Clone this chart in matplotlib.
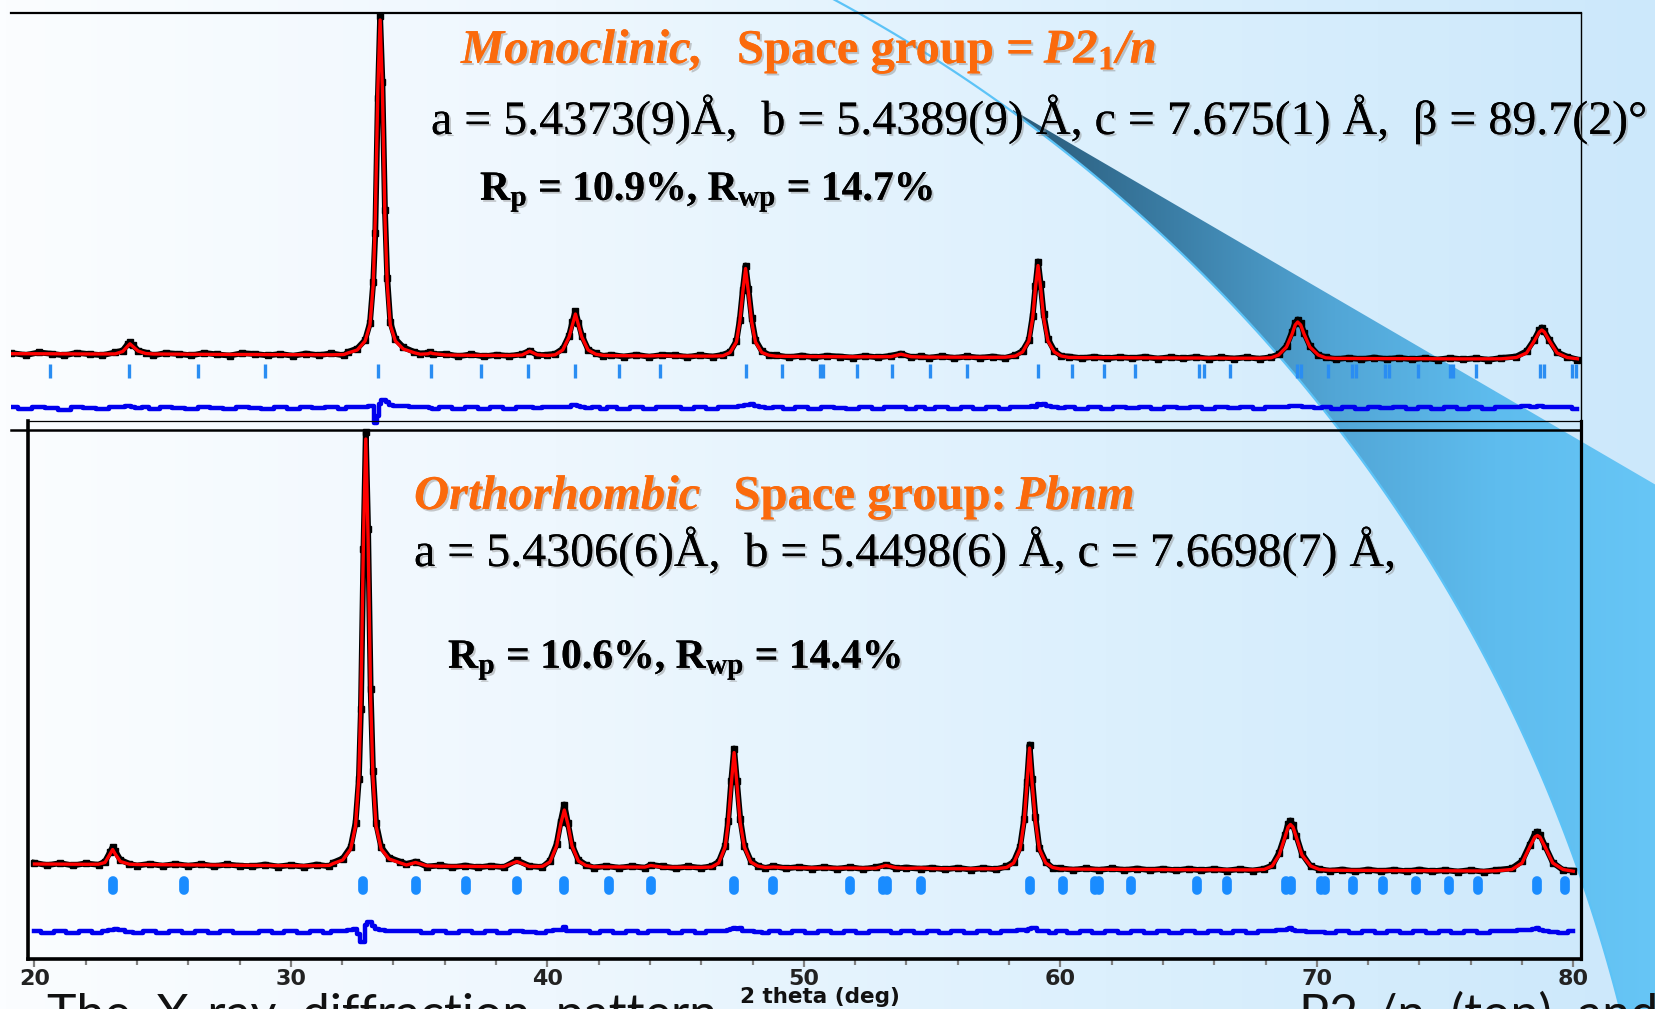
import numpy as np
import matplotlib.pyplot as plt
import matplotlib.patheffects as pe
from matplotlib.colors import LinearSegmentedColormap
from matplotlib.patches import Polygon

# --- data (2theta in deg, intensity in counts) ---
# top panel: monoclinic P2_1/n refinement
top_tt = [18.4, 19.0, 19.5, 20.0, 20.5, 21.0, 21.5, 22.0, 22.5, 22.8, 23.0, 23.08, 23.2, 23.4, 23.7,
          24.0, 24.5, 25.0, 25.5, 26.0, 26.5, 27.0, 27.5, 28.0, 28.5, 29.0, 29.5, 30.0, 30.5, 31.0,
          31.5, 31.65, 32.02, 32.33, 32.52, 32.65, 32.73, 32.83, 32.92, 33.01, 33.11, 33.2, 33.32, 33.52,
          33.83, 34.27, 34.5, 34.8, 34.9, 35.0, 35.5, 36.0, 36.5, 37.0, 37.5, 38.0, 38.5, 38.8, 39.1,
          39.5, 39.8, 40.1, 40.35, 40.48, 40.6, 40.72, 40.85, 41.1, 41.4, 41.7, 42.0, 42.5, 43.0, 43.5,
          44.0, 44.5, 45.0, 45.5, 46.0, 46.4, 46.68, 46.93, 47.06, 47.18, 47.29, 47.4, 47.53, 47.68, 47.93,
          48.2, 48.5, 49.0, 49.5, 50.0, 50.5, 51.0, 51.5, 52.0, 52.5, 53.0, 53.4, 53.8, 54.2, 54.5,
          55.0, 55.5, 56.0, 56.5, 57.0, 57.5, 57.9, 58.18, 58.43, 58.58, 58.69, 58.79, 58.89, 59.01,
          59.18, 59.43, 59.7, 60.0, 60.5, 61.0, 61.5, 62.0, 62.5, 63.0, 63.5, 64.0, 64.5, 65.0, 65.5,
          66.0, 66.5, 67.0, 67.5, 67.95, 68.25, 68.56, 68.78, 68.9, 69.0, 69.12, 69.25, 69.48, 69.81,
          70.1, 70.5, 71.0, 71.5, 72.0, 72.5, 73.0, 73.5, 74.0, 74.5, 75.0, 75.5, 76.0, 76.5, 77.0,
          77.6, 78.0, 78.3, 78.5, 78.6, 78.7, 78.9, 79.2, 79.6, 80.0]
top_calc = [163, 163, 162, 162, 161, 161, 160, 160, 161, 185, 240, 262, 235, 190, 165,
            160, 159, 158, 157, 157, 156, 156, 155, 155, 154, 154, 153, 153, 152, 152,
            155, 170, 200, 290, 450, 860, 1520, 2800, 3500, 2800, 1520, 860, 450, 290,
            210, 172, 158, 162, 172, 164, 150, 148, 147, 146, 145, 145, 150, 188, 152,
            145, 152, 200, 330, 450, 560, 450, 330, 200, 158, 146, 144, 143, 142, 141,
            144, 140, 139, 139, 139, 142, 175, 280, 480, 780, 1015, 780, 480, 280, 175,
            148, 138, 136, 135, 134, 133, 133, 132, 132, 131, 133, 158, 133, 130, 129,
            129, 128, 128, 127, 127, 128, 140, 180, 290, 520, 830, 1045, 830, 520,
            290, 180, 140, 126, 124, 124, 123, 123, 122, 122, 121, 121, 120, 120, 119,
            119, 118, 118, 118, 122, 150, 230, 360, 450, 480, 450, 360, 230, 150,
            122, 116, 115, 115, 114, 114, 113, 113, 113, 112, 112, 111, 111, 111, 112,
            125, 170, 290, 380, 400, 380, 290, 170, 125, 112]
top_obs = [170, 150, 176, 162, 146, 172, 158, 148, 176, 195, 262, 280, 250, 195, 174,
           146, 170, 160, 146, 170, 156, 144, 168, 160, 146, 160, 142, 164, 148, 166,
           146, 180, 215, 300, 470, 880, 1370, 2720, 3540, 2880, 1600, 920, 480, 310,
           228, 180, 165, 170, 176, 158, 160, 138, 156, 136, 152, 140, 158, 194, 148,
           152, 162, 212, 345, 480, 590, 470, 345, 205, 166, 138, 152, 134, 152, 132,
           150, 148, 130, 148, 134, 152, 182, 290, 500, 800, 1045, 815, 520, 300, 190,
           152, 146, 128, 144, 126, 142, 134, 124, 140, 126, 142, 164, 128, 138, 122,
           138, 120, 136, 122, 134, 120, 150, 190, 300, 545, 840, 1085, 865, 560,
           310, 192, 140, 134, 118, 132, 116, 130, 118, 132, 114, 128, 116, 130, 112,
           126, 114, 128, 112, 128, 156, 240, 382, 470, 505, 472, 372, 242, 150,
           128, 108, 122, 108, 124, 110, 122, 106, 120, 104, 120, 106, 118, 102, 120,
           135, 188, 302, 400, 425, 388, 300, 178, 132, 104]
top_hkl = [19.92, 23.04, 25.74, 28.39, 32.84, 34.91, 36.87, 38.73, 40.6, 42.31, 43.93,
           47.29, 48.74, 50.2, 50.32, 51.69, 53.06, 54.56, 56.01, 58.79, 60.12, 61.37, 62.61,
           65.1, 65.3, 66.35, 68.97, 69.12, 70.21, 71.12, 71.3, 72.42, 72.6, 73.74, 74.99, 75.1,
           76.03, 78.52, 78.7, 79.8, 79.95]

# bottom panel: orthorhombic Pbnm refinement
bot_tt = [20.0, 20.5, 21.0, 21.5, 22.0, 22.5, 22.75, 22.95, 23.05, 23.15, 23.35, 23.7, 24.0, 24.5,
          25.0, 25.5, 26.0, 26.5, 27.0, 27.5, 28.0, 28.5, 29.0, 29.5, 30.0, 30.5, 31.0, 31.5, 31.65,
          32.02, 32.33, 32.52, 32.65, 32.73, 32.83, 32.92, 33.01, 33.11, 33.2, 33.32, 33.52, 33.83,
          34.27, 34.5, 34.86, 35.3, 35.8, 36.3, 36.8, 37.3, 37.8, 38.3, 38.81, 39.3, 39.8, 40.1,
          40.36, 40.52, 40.66, 40.8, 40.96, 41.21, 41.5, 41.8, 42.3, 42.8, 43.3, 43.8, 44.03, 44.5,
          45.0, 45.5, 46.0, 46.4, 46.68, 46.93, 47.05, 47.17, 47.28, 47.39, 47.52, 47.68, 47.93, 48.2,
          48.5, 48.81, 49.3, 49.8, 50.3, 50.8, 51.3, 51.8, 52.3, 52.8, 53.2, 53.6, 54.0, 54.57,
          55.0, 55.5, 56.0, 56.5, 57.0, 57.5, 57.9, 58.18, 58.43, 58.59, 58.7, 58.8, 58.9, 59.03,
          59.18, 59.43, 59.7, 60.0, 60.5, 61.0, 61.5, 62.0, 62.5, 63.0, 63.5, 64.0, 64.5, 65.0, 65.5,
          66.0, 66.5, 67.0, 67.5, 67.95, 68.26, 68.53, 68.76, 68.88, 68.97, 69.07, 69.2, 69.42, 69.76,
          70.1, 70.5, 71.0, 71.5, 72.0, 72.5, 73.0, 73.5, 74.0, 74.5, 75.0, 75.5, 76.0, 76.5, 77.0,
          77.6, 78.0, 78.3, 78.5, 78.6, 78.7, 78.9, 79.2, 79.6, 80.0]
bot_calc = [150, 150, 149, 148, 147, 148, 165, 250, 295, 250, 175, 148, 145, 144,
            143, 142, 141, 140, 139, 138, 137, 136, 135, 134, 133, 132, 133, 136, 155,
            190, 300, 530, 1020, 1800, 3400, 4400, 3400, 1800, 1020, 530, 300, 200,
            160, 140, 165, 132, 128, 127, 126, 125, 124, 124, 175, 125, 126, 170,
            330, 550, 690, 550, 330, 180, 135, 122, 121, 120, 119, 119, 135, 118,
            117, 117, 116, 120, 160, 320, 560, 950, 1265, 950, 560, 320, 170, 130,
            115, 120, 113, 112, 111, 110, 109, 110, 108, 108, 135, 112, 106, 110,
            104, 103, 103, 102, 102, 103, 115, 160, 300, 580, 960, 1310, 960, 580,
            300, 160, 115, 100, 99, 98, 98, 97, 96, 96, 95, 94, 94, 93, 93,
            92, 92, 91, 91, 96, 130, 240, 420, 520, 545, 520, 420, 240, 130,
            95, 88, 87, 86, 86, 85, 84, 84, 84, 83, 82, 82, 81, 80, 82,
            95, 160, 320, 420, 435, 420, 320, 160, 95, 78]
bot_obs = [162, 138, 158, 136, 156, 142, 175, 270, 320, 280, 192, 152, 134, 152,
           132, 150, 132, 148, 128, 146, 132, 128, 144, 124, 140, 122, 144, 126, 165,
           205, 320, 560, 1000, 1700, 3300, 4470, 3500, 1900, 1080, 560, 320, 215,
           172, 150, 174, 124, 136, 118, 134, 116, 132, 118, 188, 130, 118, 182,
           350, 575, 745, 560, 340, 192, 142, 114, 130, 112, 128, 112, 142, 126,
           108, 126, 110, 128, 172, 332, 582, 985, 1305, 985, 600, 332, 182, 134,
           108, 130, 106, 120, 104, 118, 102, 118, 100, 116, 142, 106, 114, 102,
           112, 96, 112, 94, 110, 96, 126, 172, 322, 605, 972, 1345, 1005, 622,
           312, 172, 110, 108, 92, 106, 90, 106, 90, 104, 88, 102, 86, 102, 86,
           100, 84, 100, 84, 102, 136, 262, 442, 552, 585, 542, 432, 252, 128,
           100, 82, 94, 78, 94, 78, 92, 76, 94, 76, 90, 74, 90, 72, 90,
           106, 178, 342, 452, 475, 442, 330, 165, 90, 84]
bot_hkl = [23.05, 25.84, 32.8, 34.86, 36.83, 38.81, 40.66, 42.39, 44.03, 47.28, 48.81,
           51.81, 53.1, 53.25, 54.57, 58.81, 60.12, 61.35, 61.5, 62.76, 65.31, 66.5, 68.8, 68.98,
           70.15, 70.3, 71.4, 72.59, 73.87, 75.14, 76.3, 78.6, 79.67]

top_diff_offset = -380
bot_diff_offset = -530
x_major = [20, 30, 40, 50, 60, 70, 80]

# --- figure, pixel helpers ---
W, H = 1656, 1009
fig = plt.figure(figsize=(W / 100, H / 100), dpi=100)
plt.rcParams['mathtext.fontset'] = 'custom'
plt.rcParams['mathtext.rm'] = 'Liberation Serif'
plt.rcParams['mathtext.bf'] = 'Liberation Serif:bold'
plt.rcParams['mathtext.it'] = 'Liberation Serif:italic'


def fx(px):
    return px / W


def fy(py):
    return 1 - py / H


# slide background + decorative swoosh
bg = fig.add_axes([0, 0, 1, 1], zorder=0)
bg.set_xlim(0, W)
bg.set_ylim(H, 0)
bg.axis('off')
grad = np.linspace(0, 1, 256)[None, :]
bg_cmap = LinearSegmentedColormap.from_list('bg', ['#fbfdff', '#eef7fe', '#dcf0fd', '#cce8fb'])
bg.imshow(grad, extent=[0, W, H, 0], cmap=bg_cmap, aspect='auto', zorder=0)

cx, cy, r = 77, 1400, 1592
ang = np.radians(np.linspace(-54.0, -14.0, 80))
arc_x = cx + r * np.cos(ang)
arc_y = cy + r * np.sin(ang)
wedge = list(zip(arc_x[::-1], arc_y[::-1])) + [(1013, 110), (W, 485), (W, H)]
wedge_patch = Polygon(wedge, closed=True, facecolor='none', edgecolor='none')
bg.add_patch(wedge_patch)
wedge_cmap = LinearSegmentedColormap.from_list(
    'wedge', ['#2a5a78', '#3b7ea6', '#52a6d6', '#5ebcee', '#67c6f6'])
im = bg.imshow(grad, extent=[1013, W, H, 0], cmap=wedge_cmap, aspect='auto', zorder=1)
im.set_clip_path(wedge_patch)
ang2 = np.radians(np.linspace(-61.9, -14.0, 120))
bg.plot(cx + r * np.cos(ang2), cy + r * np.sin(ang2), color='#5cc3f7', lw=1.6, zorder=2)

# --- top panel ---
ax1 = fig.add_axes([fx(10.6), fy(430), fx(1581) - fx(10.6), fy(13) - fy(430)], zorder=2)
ax1.patch.set_visible(False)
ax1.set_xlim(18.39, 80.14)
ax1.set_ylim(-600, 3570)
ax1.spines['left'].set_visible(False)
ax1.spines['top'].set_linewidth(1.6)
ax1.spines['right'].set_linewidth(1.0)
ax1.spines['bottom'].set_linewidth(1.8)
ax1.set_xticks([])
ax1.set_yticks([])
ax1.plot(top_tt, top_obs, color='black', lw=4.2, marker='s', ms=4, zorder=3)
ax1.plot(top_tt, top_calc, color='#ff0000', lw=2.4, zorder=4)
top_diff = np.array(top_obs) - np.array(top_calc) + top_diff_offset
ax1.plot(top_tt, top_diff, color='#0000ee', lw=3.2, drawstyle='steps-mid', zorder=3)
ax1.vlines(top_hkl, -80, 60, color='#2a8df2', lw=2.4, zorder=3)

# --- bottom panel ---
ax2 = fig.add_axes([fx(28), fy(959), fx(1581) - fx(28), fy(421) - fy(959)], zorder=2)
ax2.patch.set_visible(False)
ax2.set_xlim(19.75, 80.30)
ax2.set_ylim(-800, 4580)
ax2.spines['left'].set_linewidth(2.6)
ax2.spines['bottom'].set_linewidth(2.6)
ax2.spines['right'].set_linewidth(2.3)
ax2.spines['top'].set_linewidth(0.9)
ax2.set_yticks([])
ax2.tick_params(axis='x', which='both', direction='out', color='#808080', width=1.6,
                labelsize=16, labelcolor='#222222')
ax2.tick_params(axis='x', which='major', length=6, pad=1)
ax2.tick_params(axis='x', which='minor', length=4)
ax2.set_xticks(np.arange(22, 80, 2), minor=True)
ax2.set_xticks(x_major, labels=[str(v) for v in x_major], fontsize=16, fontweight='bold')
ax2.set_xlabel('2 theta (deg)', fontsize=15.5, fontweight='bold', color='#111111')
ax2.xaxis.set_label_coords(0.51, -0.052)
ax2.plot(bot_tt, bot_obs, color='black', lw=4.2, marker='s', ms=4, zorder=3)
ax2.plot(bot_tt, bot_calc, color='#ff0000', lw=2.4, zorder=4)
bot_diff = np.array(bot_obs) - np.array(bot_calc) + bot_diff_offset
ax2.plot(bot_tt, bot_diff, color='#0000ee', lw=3.2, drawstyle='steps-mid', zorder=3)
hk = ax2.vlines(bot_hkl, -105, -15, color='#1a8cff', lw=7, zorder=3)
hk.set_capstyle('round')

# --- annotations ---
shadow = [pe.withSimplePatchShadow(offset=(1.5, -1.5), shadow_rgbFace='#8a8a8a', alpha=0.45), pe.Normal()]
orange = '#fb6a0c'
serif = 'Liberation Serif'
renderer = fig.canvas.get_renderer()


def put(px, py, s, **kw):
    kw.setdefault('family', serif)
    kw.setdefault('va', 'baseline')
    kw.setdefault('ha', 'left')
    t = fig.text(fx(px), fy(py), s, zorder=10, **kw)
    t.set_path_effects(shadow)
    return t


def chain(px, py, parts):
    # lay out differently styled pieces one after another on a baseline
    x = px
    for s, gap, kw in parts:
        x += gap
        t = put(x, py, s, **kw)
        x = t.get_window_extent(renderer=renderer).x1


head = dict(size=35, weight='bold', color=orange)
chain(461, 63, [('Monoclinic,', 0, dict(head, style='italic')),
                ('Space group =', 34, head),
                (r'P2$_\mathbf{1}$/n', 10, dict(head, style='italic'))])
put(431, 134, 'a = 5.4373(9)Å,  b = 5.4389(9) Å, c = 7.675(1) Å,  β = 89.7(2)°', size=34.5, color='black')
put(480, 200, r'R$_\mathbf{p}$ = 10.9%, R$_\mathbf{wp}$ = 14.7%', size=30, weight='bold', color='black')

chain(414, 509, [('Orthorhombic', 0, dict(head, style='italic')),
                 ('Space group:', 33, head),
                 ('Pbnm', 9, dict(head, style='italic'))])
put(414, 566, 'a = 5.4306(6)Å,  b = 5.4498(6) Å, c = 7.6698(7) Å,', size=34.5, color='black')
put(448, 668, r'R$_\mathbf{p}$ = 10.6%, R$_\mathbf{wp}$ = 14.4%', size=30, weight='bold', color='black')

# slide body text running off the bottom edge
body = dict(family='Lato', size=36, color='#111111', va='baseline', zorder=1)
fig.text(fx(47), fy(1030), 'The  X-ray  diffraction  pattern', ha='left', **body)
fig.text(fx(1658), fy(1030), 'P2₁/n  (top)  and', ha='right', **body)

fig.savefig('out.png', dpi=100)
